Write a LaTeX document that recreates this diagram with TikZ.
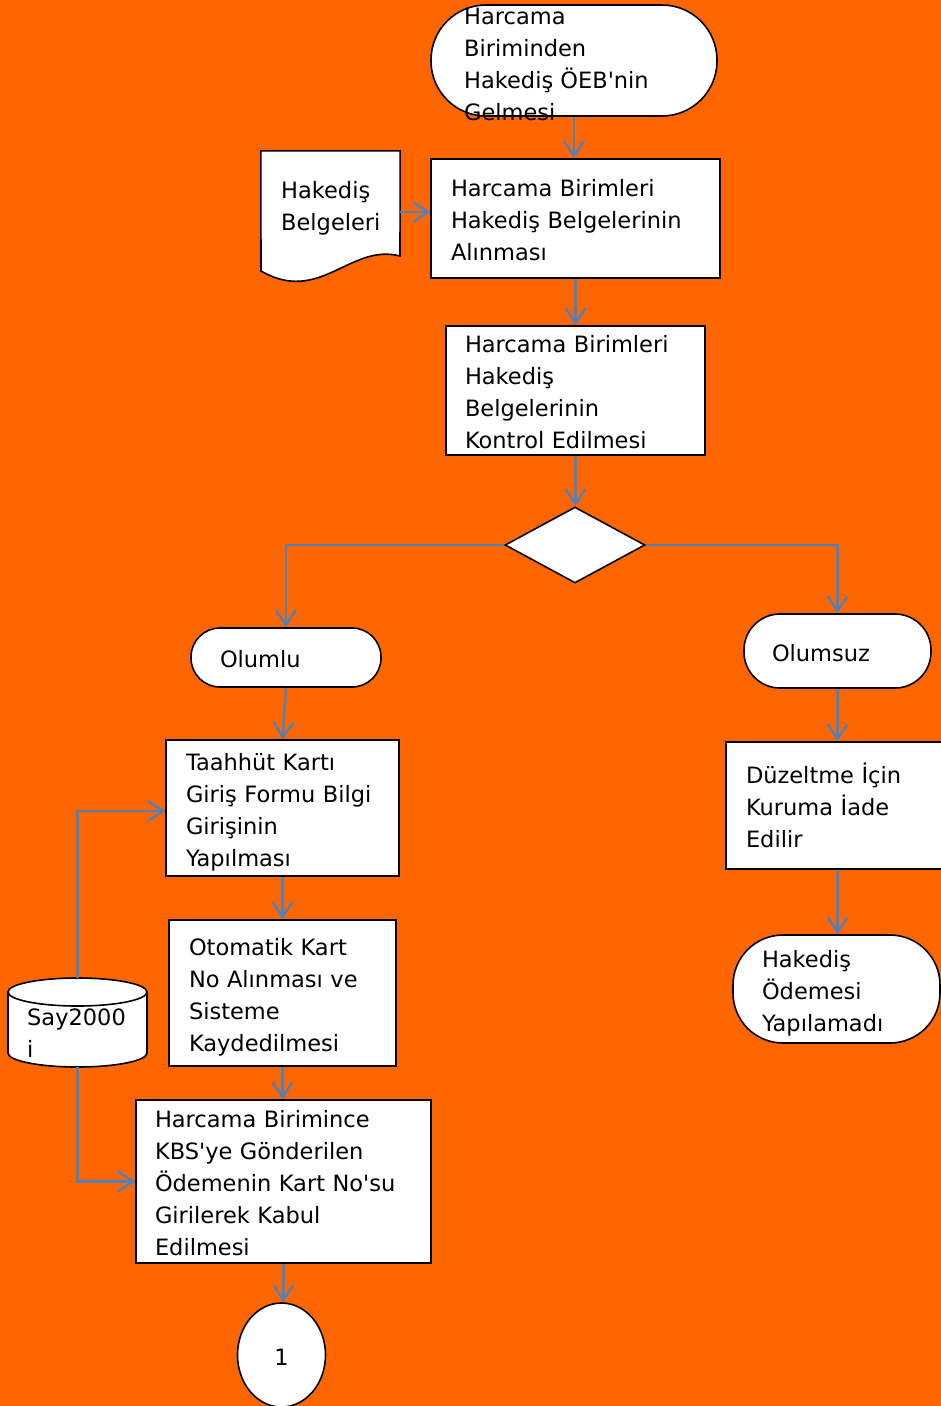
\documentclass[tikz,border=0pt]{standalone}
\usepackage{fontspec}
\newfontfamily\djv{DejaVu Sans}
\usetikzlibrary{arrows.meta,shapes.geometric}
\definecolor{bgorange}{HTML}{FF6600}
\definecolor{conblue}{HTML}{4F81BD}
\newcommand\fs{\djv\fontsize{22.5}{32}\selectfont}
\newcommand\lns[1]{\raisebox{-4pt}[\height][\depth]{\begin{tabular}{@{}l@{}}#1\end{tabular}}}
\tikzset{
  shp/.style={draw=black, line width=1.6pt, fill=white},
  proc/.style={shp, rectangle, font=\fs, align=left, inner ysep=0pt},
  txt/.style={font=\fs, inner sep=0pt, align=left},
  con/.style={draw=conblue, line width=2.4pt, -{Straight Barb[length=15pt,width=20pt]}}
}
\begin{document}
\begin{tikzpicture}[x=1pt,y=-1pt]
\useasboundingbox (0,0) rectangle (941,1406);
\fill[bgorange] (0,0) rectangle (941,1406);

% start terminal
\node[shp, rectangle, rounded corners=55pt, minimum width=286pt, minimum height=111pt, inner sep=0pt] (t1) at (574,60.5) {};
\node[txt, anchor=west] (t1t) at (464,62.5) {\lns{Harcama\\Biriminden\\Hakediş ÖEB'nin\\Gelmesi}};

% document
\node[txt, minimum width=139pt, minimum height=106pt] (doc) at (330.5,204) {};
\draw[shp] (doc.north west) -- (doc.north east) -- (400,256) .. controls (350,243) and (320,305) .. (261,271) -- cycle;
\node[txt, anchor=west] (doct) at (281,204) {\lns{Hakediş\\Belgeleri}};

\node[proc, minimum width=289pt, minimum height=119pt, text width=249pt, inner xsep=20pt] (b2) at (575.5,218.5)
  {\lns{Harcama Birimleri\\Hakediş Belgelerinin\\Alınması}};
\node[proc, minimum width=259pt, minimum height=129pt, text width=221pt, inner xsep=19pt] (b3) at (575.5,390.5)
  {\lns{Harcama Birimleri\\Hakediş\\Belgelerinin\\Kontrol Edilmesi}};

\node[shp, diamond, minimum width=140pt, minimum height=76pt, inner sep=0pt] (dia) at (575,545) {};

\node[proc, rounded corners=29pt, minimum width=190pt, minimum height=59pt, text width=132pt, inner xsep=29pt] (olumlu) at (286,657.5)
  {\lns{Olumlu}};
\node[proc, rounded corners=36pt, minimum width=187pt, minimum height=74pt, text width=131pt, inner xsep=28pt] (olumsuz) at (837.5,651)
  {\lns{Olumsuz}};

\node[proc, minimum width=233pt, minimum height=136pt, text width=193pt, inner xsep=20pt] (taah) at (282.5,808)
  {\lns{Taahhüt Kartı\\Giriş Formu Bilgi\\Girişinin\\Yapılması}};
\node[proc, minimum width=227pt, minimum height=146pt, text width=187pt, inner xsep=20pt] (oto) at (282.5,993)
  {\lns{Otomatik Kart\\No Alınması ve\\Sisteme\\Kaydedilmesi}};
\node[proc, minimum width=295pt, minimum height=163pt, text width=257pt, inner xsep=19pt] (hb) at (283.5,1181.5)
  {\lns{Harcama Birimince\\KBS'ye Gönderilen\\Ödemenin Kart No'su\\Girilerek Kabul\\Edilmesi}};

\node[shp, ellipse, minimum width=88pt, minimum height=104pt, inner sep=0pt, font=\fs] (e1) at (281.5,1355) {\lns{1}};

\node[proc, minimum width=226pt, minimum height=127pt, text width=186pt, inner xsep=20pt] (duz) at (839,805.5)
  {\lns{Düzeltme İçin\\Kuruma İade\\Edilir}};
\node[proc, rounded corners=50pt, minimum width=207pt, minimum height=108pt, text width=149pt, inner xsep=29pt] (hop) at (836.5,989)
  {\lns{Hakediş\\Ödemesi\\Yapılamadı}};

% database cylinder
\node[txt, minimum width=139pt, minimum height=89pt] (db) at (77.5,1022.5) {};
\draw[shp] (8,992) -- (8,1053) arc[start angle=180,end angle=360,x radius=69.5pt,y radius=14pt]
  -- (147,992) arc[start angle=0,end angle=180,x radius=69.5pt,y radius=14pt] -- cycle;
\draw[line width=1.6pt] (8,992) arc[start angle=180,end angle=360,x radius=69.5pt,y radius=14pt];
\node[txt, anchor=west] (dbt) at (27,1031) {\lns{Say2000\\i}};

% connectors
\draw[con] (t1.south) -- (t1.south |- b2.north);
\draw[con] ([yshift=-8pt]doc.east) -- ([yshift=-8pt]doc.east -| b2.west);
\draw[con] (b2.south) -- (b2.south |- b3.north);
\draw[con] (b3.south) -- (b3.south |- dia.north);
\draw[con] (dia.west) -| (olumlu.north);
\draw[con] (dia.east) -| (olumsuz.north);
\draw[con] (olumlu.south) -- (taah.north);
\draw[con] (taah.south) -- (taah.south |- oto.north);
\draw[con] (oto.south) -- (oto.south |- hb.north);
\draw[con] (hb.south) -- (hb.south |- e1.north);
\draw[con] (olumsuz.south) -- (olumsuz.south |- duz.north);
\draw[con] (olumsuz.south |- duz.south) -- (olumsuz.south |- hop.north);
\draw[con] (db.north) |- ([yshift=-3pt]taah.west);
\draw[con] (db.south) |- (hb.west);
\end{tikzpicture}
\end{document}
